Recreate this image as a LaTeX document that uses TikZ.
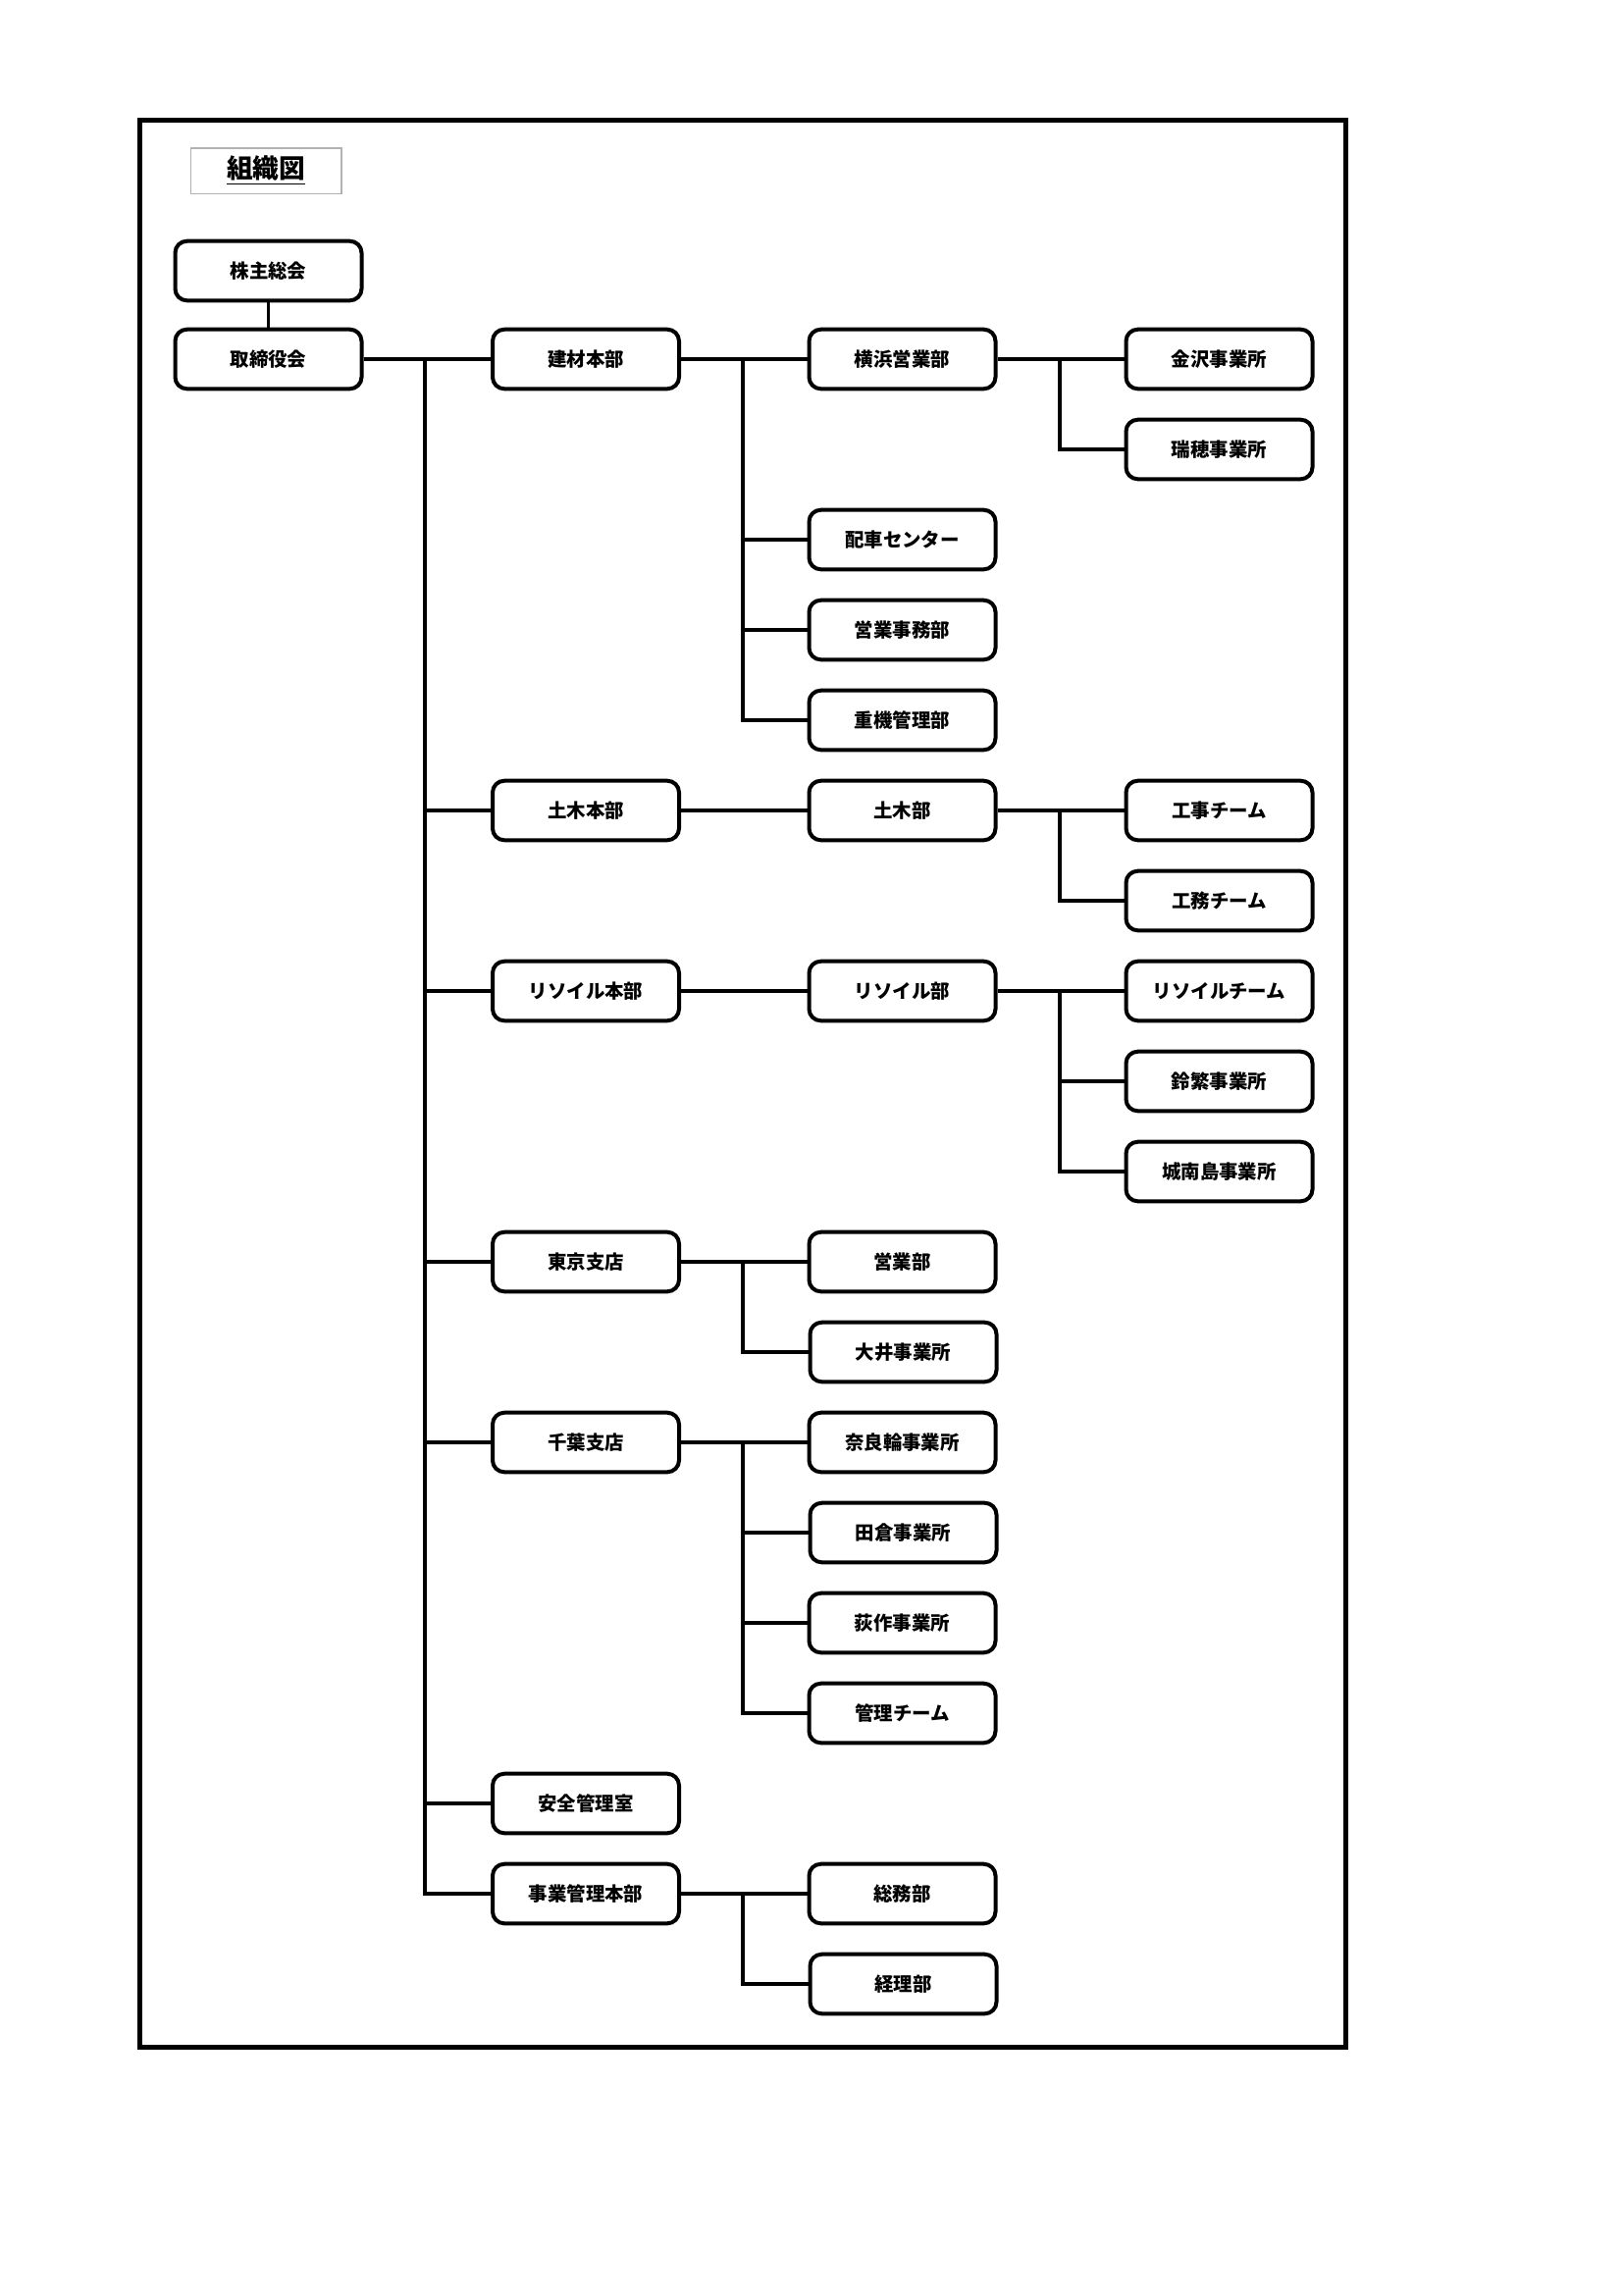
\documentclass[tikz,border=0pt]{standalone}
\usepackage{fontspec}
\setmainfont{Noto Sans CJK JP}
\newcommand\ry[1]{366+92.0*#1}
\begin{document}
\begin{tikzpicture}[x=0.36pt,y=-0.36pt,
  orgbox/.style={draw,rounded corners=4.3pt,line width=1.44pt,minimum width=68.4pt,minimum height=21.8pt,inner sep=0pt,font=\fontsize{7}{8}\selectfont\bfseries},
  conn/.style={line width=1.26pt},
]
\useasboundingbox (0,0) rectangle (1654,2339);
\draw[line width=1.8pt] (142.5,122.5) rectangle (1371,2086);
\node[draw=black!30,line width=0.4pt,minimum width=55.4pt,minimum height=16.6pt,inner sep=0pt,font=\fontsize{9.6}{11}\selectfont\bfseries] (title) at (271,174) {\underline{組織図}};

% column 1
\node[orgbox] (kabu) at (273.5,276) {株主総会};
\node[orgbox] (tori) at (273.5,\ry{0}) {取締役会};
% column 2
\node[orgbox] (kenzai) at (597,\ry{0}) {建材本部};
\node[orgbox] (dobokuH) at (597,\ry{5}) {土木本部};
\node[orgbox] (resoilH) at (597,\ry{7}) {リソイル本部};
\node[orgbox] (tokyo) at (597,\ry{10}) {東京支店};
\node[orgbox] (chiba) at (597,\ry{12}) {千葉支店};
\node[orgbox] (anzen) at (597,\ry{16}) {安全管理室};
\node[orgbox] (jigyo) at (597,\ry{17}) {事業管理本部};
% column 3
\node[orgbox] (yoko) at (919.5,\ry{0}) {横浜営業部};
\node[orgbox] (haisha) at (919.5,\ry{2}) {配車センター};
\node[orgbox] (eigyoJ) at (919.5,\ry{3}) {営業事務部};
\node[orgbox] (juki) at (919.5,\ry{4}) {重機管理部};
\node[orgbox] (doboku) at (919.5,\ry{5}) {土木部};
\node[orgbox] (resoil) at (919.5,\ry{7}) {リソイル部};
\node[orgbox] (eigyo) at (919.5,\ry{10}) {営業部};
\node[orgbox] (oi) at (920.5,\ry{11}) {大井事業所};
\node[orgbox] (nara) at (919.5,\ry{12}) {奈良輪事業所};
\node[orgbox] (tagura) at (920.5,\ry{13}) {田倉事業所};
\node[orgbox] (ogi) at (919.5,\ry{14}) {荻作事業所};
\node[orgbox] (kanri) at (919.5,\ry{15}) {管理チーム};
\node[orgbox] (somu) at (919.5,\ry{17}) {総務部};
\node[orgbox] (keiri) at (920.5,\ry{18}) {経理部};
% column 4
\node[orgbox] (kanazawa) at (1242.5,\ry{0}) {金沢事業所};
\node[orgbox] (mizuho) at (1242.5,\ry{1}) {瑞穂事業所};
\node[orgbox] (koji) at (1242.5,\ry{5}) {工事チーム};
\node[orgbox] (komu) at (1242.5,\ry{6}) {工務チーム};
\node[orgbox] (rteam) at (1242.5,\ry{7}) {リソイルチーム};
\node[orgbox] (suzu) at (1242.5,\ry{8}) {鈴繁事業所};
\node[orgbox] (jonan) at (1242.5,\ry{9}) {城南島事業所};

% branch points
\coordinate (t0) at (433,\ry{0});
\coordinate (bK) at (757,\ry{0});
\coordinate (bY) at (1080,\ry{0});
\coordinate (bD) at (1080,\ry{5});
\coordinate (bR) at (1080,\ry{7});
\coordinate (bT) at (757,\ry{10});
\coordinate (bC) at (757,\ry{12});
\coordinate (bJ) at (757,\ry{17});

% connectors
\draw[conn] (kabu) -- (tori);
\draw[conn] (tori) -- (kenzai);
\foreach \n in {dobokuH,resoilH,tokyo,chiba,anzen,jigyo} \draw[conn] (t0) |- (\n.west);
\draw[conn] (kenzai) -- (yoko);
\foreach \n in {haisha,eigyoJ,juki} \draw[conn] (bK) |- (\n.west);
\draw[conn] (yoko) -- (kanazawa);
\draw[conn] (bY) |- (mizuho.west);
\draw[conn] (dobokuH) -- (doboku);
\draw[conn] (doboku) -- (koji);
\draw[conn] (bD) |- (komu.west);
\draw[conn] (resoilH) -- (resoil);
\draw[conn] (resoil) -- (rteam);
\foreach \n in {suzu,jonan} \draw[conn] (bR) |- (\n.west);
\draw[conn] (tokyo) -- (eigyo);
\draw[conn] (bT) |- (oi.west);
\draw[conn] (chiba) -- (nara);
\foreach \n in {tagura,ogi,kanri} \draw[conn] (bC) |- (\n.west);
\draw[conn] (jigyo) -- (somu);
\draw[conn] (bJ) |- (keiri.west);
\end{tikzpicture}
\end{document}
